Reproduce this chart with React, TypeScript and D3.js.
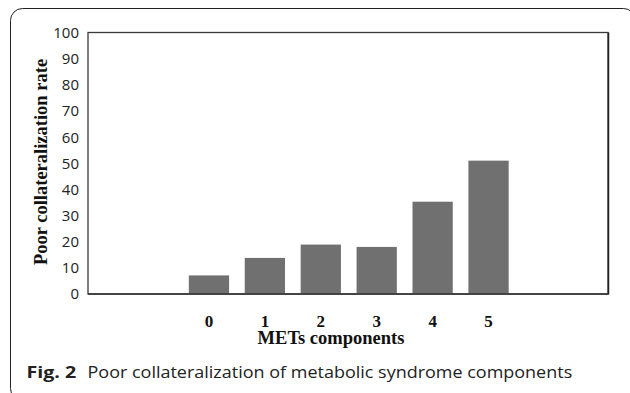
import React from "react";
import * as d3 from "d3";

const categories = ["0", "1", "2", "3", "4", "5"];
const rates = [7.1, 13.8, 18.9, 18.0, 35.3, 51.0];
const yTicks = [0, 10, 20, 30, 40, 50, 60, 70, 80, 90, 100];

const W = 630;
const H = 393;
const frame = { left: 88, right: 608, top: 32.5, bottom: 294 };

export default function App() {
  const y = d3.scaleLinear().domain([0, 100]).range([frame.bottom, frame.top]);
  const x = d3
    .scaleBand<string>()
    .domain(categories)
    .range([181, 516.5])
    .paddingInner(0.28)
    .paddingOuter(0.14);

  const serif = "'Liberation Serif', 'Times New Roman', serif";
  const sans = "'Open Sans', 'Noto Sans', sans-serif";

  return (
    <svg
      width={W}
      height={H}
      style={{ position: "absolute", left: 0, top: 0, display: "block" }}
    >
      <rect x={0} y={0} width={W} height={H} fill="#fff" />
      <rect
        x={10.5}
        y={8.5}
        width={625}
        height={392}
        rx={12}
        ry={12}
        fill="#fff"
        stroke="#222"
        strokeWidth={1}
      />
      <rect
        x={frame.left}
        y={frame.top}
        width={frame.right - frame.left}
        height={frame.bottom - frame.top}
        fill="#fff"
        stroke="#3a3a3a"
        strokeWidth={1.3}
      />
      <line
        x1={frame.right + 0.5}
        x2={frame.right + 0.5}
        y1={frame.top}
        y2={frame.bottom + 0.5}
        stroke="#222"
        strokeWidth={1.5}
      />
      {rates.map((v, i) => (
        <rect
          key={categories[i]}
          x={x(categories[i])}
          y={y(v)}
          width={x.bandwidth()}
          height={y(0) - y(v)}
          fill="#707070"
        />
      ))}
      <line
        x1={frame.left}
        x2={frame.right}
        y1={frame.bottom}
        y2={frame.bottom}
        stroke="#333"
        strokeWidth={1.5}
      />
      {yTicks.map((t) => (
        <text
          key={t}
          x={79}
          y={y(t)}
          dy="0.36em"
          textAnchor="end"
          fontFamily={sans}
          fontSize={15}
          fill="#222"
        >
          {t}
        </text>
      ))}
      {categories.map((c) => (
        <text
          key={c}
          x={(x(c) as number) + x.bandwidth() / 2}
          y={326.5}
          textAnchor="middle"
          fontFamily={serif}
          fontWeight="bold"
          fontSize={17}
          fill="#111"
        >
          {c}
        </text>
      ))}
      <text
        x={331}
        y={344}
        textAnchor="middle"
        fontFamily={serif}
        fontWeight="bold"
        fontSize={18.5}
        fill="#111"
      >
        METs components
      </text>
      <text
        transform={`translate(47,162) rotate(-90)`}
        textAnchor="middle"
        fontFamily={serif}
        fontWeight="bold"
        fontSize={18.5}
        fill="#111"
      >
        Poor collateralization rate
      </text>
      <text
        transform="translate(26.5,378) scale(1.19,1)"
        fontFamily={sans}
        fontSize={16.5}
        fontWeight="bold"
        fill="#222"
      >
        Fig. 2
      </text>
      <text
        transform="translate(87.5,378) scale(1.09,1)"
        fontFamily={sans}
        fontSize={16.5}
        fill="#222"
      >
        Poor collateralization of metabolic syndrome components
      </text>
    </svg>
  );
}
